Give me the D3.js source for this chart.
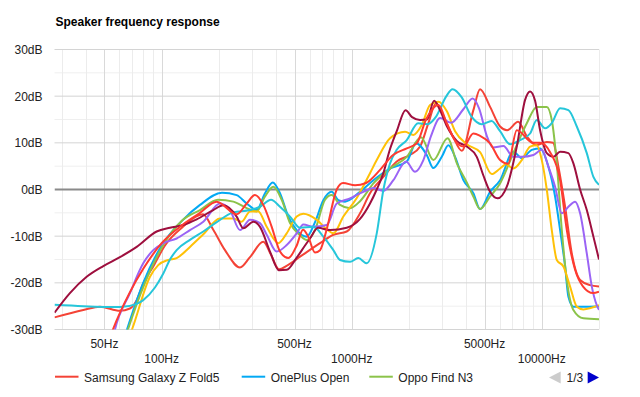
<!DOCTYPE html>
<html>
<head>
<meta charset="utf-8">
<script src="https://cdn.jsdelivr.net/npm/d3@7"></script>
<style>
    body { margin: 0; background: #fff; }
    text { font-family: Arial, "Liberation Sans", sans-serif; }
</style>
</head>
<body>
<svg id="chart"></svg>
<script>
// Frequency response readings, [Hz, dB]
const samsung = [[27.3,-27.4],[38.7,-25.8],[47.4,-25.1],[60.3,-26],[68.1,-25.5],[73.9,-23.7],[80,-20.1],[90.3,-16.5],[104.1,-12],[129.4,-8],[151.5,-5.8],[165,-5.3],[186.2,-8.5],[215.4,-13],[258.3,-16.7],[291.6,-14.5],[342.5,-11.2],[376.1,-14],[414.4,-17.1],[456.6,-16.3],[534.5,-14.4],[681.2,-11.5],[800.3,-9.7],[941.2,-9],[1106,-5.1],[1248,-0.8],[1467,2.7],[1725,6],[2027,7.4],[2289,9.2],[2521,14],[2778,18.5],[3099,15],[3413,11.3],[3793,8.3],[4365,17],[4735,21.5],[5345,17.7],[6033,13.5],[6569,12.7],[7505,14.5],[8370,11.3],[9333,9.5],[10624,10.2],[11468,10],[12230,4.9],[13265,-3.7],[14384,-13.7],[15907,-19.4],[17956,-20.5],[20000,-20.8]];
const oneplus = [[55.4,-40],[65.7,-30],[80,-20],[100,-12],[129.4,-6.5],[159.1,-3.3],[207.7,-0.7],[248.1,-1.2],[280.2,-3],[316.2,-4.4],[349.7,-0.8],[383.9,1.5],[419.4,-0.8],[463.8,-5.8],[513.5,-8.7],[579.7,-10.1],[641,-7],[709,-2.3],[784.9,-0.5],[850.3,-2.3],[922,-2.6],[1106,-0.5],[1300,2],[1591,4.5],[1948,6],[2180,9.9],[2481,7.4],[2689,4.6],[2977,7],[3224,9.5],[3498,7],[3868,2],[4365,-0.8],[4735,-4.2],[5345,-0.5],[6033,2],[7088,8.1],[7849,6.7],[8862,8.5],[9797,8.8],[10832,4.9],[11749,-1.5],[12484,-8.7],[13265,-16.5],[13804,-23],[14666,-25.1],[17250,-25.1],[20000,-25]];
const oppo = [[56.1,-40],[66.5,-30],[81.7,-20],[100,-12.5],[129.4,-6.5],[159.1,-4.4],[197.9,-2.2],[238.2,-2.6],[280.2,-4],[316.2,-4.7],[349.7,-1.5],[386.8,0.6],[428.1,-2.2],[473.5,-7.2],[534.5,-9.8],[579.7,-10.8],[641,-8.7],[723.8,-2.2],[784.9,-1.2],[868,-3.3],[979.7,-4],[1106,-2.5],[1300,1.3],[1591,4.5],[1948,7],[2316,11.2],[2689,6.3],[3193,11],[3583,5.5],[4030,1.5],[4365,-1.5],[4735,-4.2],[5345,-1.5],[6033,1.3],[7088,7.8],[8341,14.2],[9412,17.7],[10624,17.7],[11287,14.9],[11993,5.6],[12745,-8.7],[13542,-19.4],[14666,-25.8],[16555,-27.6],[20000,-27.8]];
const phone4 = [[54.7,-40],[69.8,-30],[86.8,-18.7],[95.9,-16.2],[108.3,-15.1],[119.9,-14.7],[140.9,-12.3],[165.6,-9.6],[202.7,-6.2],[238.2,-6.2],[263.7,-6.9],[291.6,-4.7],[322.4,-4.7],[357,-8],[410.9,-11.5],[454.9,-9.4],[513.5,-5.8],[556.3,-5.2],[654.4,-6.5],[738.8,-8.5],[800.3,-9.4],[903.5,-5.8],[1063,-1.8],[1248,3.5],[1354,6.3],[1591,11],[1908,12.4],[2110,11.7],[2336,13.8],[2583,18.1],[2857,18.8],[3162,16.8],[3498,12.5],[4030,9.7],[4735,8],[5456,3.3],[6033,4.5],[6489,5.4],[7088,4.5],[7849,6.3],[8680,9.2],[9412,9.5],[10000,6.3],[10624,0],[11287,-8.7],[11993,-15.1],[12994,-16.5],[14090,-20.8],[15283,-25.1],[16555,-25.7],[20000,-24.8]];
const phone5 = [[50.9,-40],[56.8,-30],[68.1,-22.2],[80,-15.8],[90.3,-13],[102,-11.5],[119.9,-10.5],[140.9,-8.7],[165.6,-6.9],[202.7,-3],[228.8,-4.4],[258.3,-8.7],[291.6,-6.5],[329.1,-7.2],[357,-9.7],[403,-13.3],[454.9,-11.9],[513.5,-9.4],[556.3,-7.5],[628,-8],[738.8,-7.6],[834,-3],[979.7,-1.9],[1151,-0.5],[1300,0.3],[1467,-0.3],[1656,2],[1932,6],[2154,3.8],[2382,6.3],[2615,11.5],[2916,15.3],[3331,14.3],[3868,17.2],[4325,19.5],[4677,17.4],[5135,11.5],[5543,9],[6280,9.3],[7088,7],[7849,7],[9035,7.4],[10000,8.5],[10832,4.9],[11749,0.6],[12745,-5.1],[13804,-3.7],[14973,-2.6],[15907,-5.1],[17250,-13.7],[18333,-20.8],[19475,-24.8],[20000,-25.8]];
const phone6 = [[27.3,-24.7],[38.7,-25],[60.3,-25.2],[73.9,-24.5],[80,-23.7],[92.2,-21],[102,-18],[110.6,-15],[119.9,-13],[140.9,-10.8],[165.6,-9],[194.8,-7],[238.2,-4.9],[291.6,-4.4],[329.1,-3.7],[376.1,-2.2],[419.4,-3.7],[473.5,-5.8],[534.5,-8.2],[628,-8],[709,-10.1],[800.3,-13],[868,-15.1],[979.7,-15.5],[1083,-14.7],[1199,-15.8],[1354,-9.4],[1467,-0.1],[1591,5.6],[1725,8.5],[1948,10.6],[2234,14.2],[2505,14],[2778,15.6],[3136,19.9],[3392,21.5],[3784,19.8],[4272,15.6],[4822,14],[5443,14.7],[6033,12.5],[6812,9.7],[7690,10.6],[8680,12],[9412,14.9],[10408,13.1],[11287,14.2],[12484,17.4],[13804,17],[15283,13.5],[17250,7.8],[18689,2.7],[20000,1]];
const phone7 = [[27.3,-26.4],[32.9,-22.2],[40.3,-18.7],[49.3,-16.4],[60.3,-14.5],[73.9,-12.3],[94.1,-9],[110.6,-8.2],[129.9,-7.6],[152.8,-6.4],[186.9,-4.4],[211,-3.4],[248.1,-5.8],[268.9,-8.3],[303.5,-6.9],[329.1,-8],[371.5,-13.3],[414.4,-17.3],[454.9,-17.2],[513.5,-14.6],[567.9,-12],[603.3,-10.5],[664.8,-8.2],[768.9,-8.7],[941.2,-8.2],[1106,-6.3],[1248,-3],[1354,0],[1467,3.5],[1572,8],[1725,12.5],[1920,17],[2077,15.5],[2289,14.9],[2490,15],[2712,19],[2916,17],[3174,13.5],[3570,10.4],[4030,9.2],[4549,7],[4928,3],[5345,-0.5],[5854,-1.9],[6545,0.6],[7387,9.2],[8170,19.2],[8680,21],[9220,19],[9797,12.7],[10624,7.8],[11510,7],[12484,8.1],[13804,7.8],[14666,5.6],[15907,0],[17250,-4.4],[18689,-10.1],[20000,-15]];
const phone8 = [[47.4,-38],[55.4,-30],[68.1,-22],[80,-17],[100,-11.5],[129.4,-7.5],[159.1,-5],[194.8,-2.6],[248.1,-5.3],[280.2,-3],[309.8,-1.2],[342.5,-3.3],[379.3,-8],[419.4,-13.3],[463.8,-14.7],[513.5,-12],[554.3,-8.6],[588.8,-10],[641,-13.5],[681.2,-13],[738.8,-8.5],[834,0],[900.2,1.4],[1041,0.9],[1189,1.4],[1409,4.2],[1650,7.4],[1948,8.8],[2199,9.9],[2461,15],[2857,18.1],[3174,14],[3498,10.5],[3868,9.2],[4365,12],[4735,11.5],[5345,9.9],[6033,6.3],[6648,5.5],[7387,12.7],[9002,10],[9797,10],[11058,8],[12484,2],[13542,-8.7],[14973,-17.2],[16497,-20.8],[18621,-22.2],[20000,-21.9]];

const seriesNames = ['Samsung Galaxy Z Fold5', 'OnePlus Open', 'Oppo Find N3', 'Phone 4', 'Phone 5', 'Phone 6', 'Phone 7', 'Phone 8'];
const seriesData = [samsung, oneplus, oppo, phone4, phone5, phone6, phone7, phone8];
const seriesColors = ['#f44336', '#03a9f4', '#8bc34a', '#ffc107', '#9b64f5', '#26c6da', '#9e0f3e', '#ff3b30'];

const dbTicks = [-30, -20, -10, 0, 10, 20, 30];
const dbMinor = [-25, -15, -5, 5, 15, 25];
const freqLabels = [50, 100, 500, 1000, 5000, 10000];
const freqMinor = [30, 40, 60, 70, 80, 90, 200, 300, 400, 600, 700, 800, 900, 2000, 3000, 4000, 6000, 7000, 8000, 9000, 20000];

const W = 640, H = 397;
const plot = { left: 54.5, right: 599, top: 49.5, bottom: 329.5 };

const svg = d3.select('#chart')
    .attr('width', W)
    .attr('height', H);

const x = d3.scaleLog()
    .domain([27.3, 20000])
    .range([plot.left, plot.right]);

const y = d3.scaleLinear()
    .domain([-30, 30])
    .range([plot.bottom, plot.top]);

// title
svg.append('text')
    .attr('x', 55.5)
    .attr('y', 26)
    .style('font-size', '12px')
    .style('font-weight', 'bold')
    .attr('fill', '#000')
    .text('Speaker frequency response');

// grid
const grid = svg.append('g');
grid.selectAll('.hminor').data(dbMinor).enter().append('line')
    .attr('x1', plot.left).attr('x2', plot.right)
    .attr('y1', d => y(d)).attr('y2', d => y(d))
    .attr('stroke', '#efefef').attr('stroke-width', 1);
grid.selectAll('.vminor').data(freqMinor).enter().append('line')
    .attr('x1', d => Math.round(x(d)) + 0.5).attr('x2', d => Math.round(x(d)) + 0.5)
    .attr('y1', plot.top).attr('y2', plot.bottom)
    .attr('stroke', '#ececec').attr('stroke-width', 1);
grid.selectAll('.vmajor').data(freqLabels).enter().append('line')
    .attr('x1', d => Math.round(x(d)) + 0.5).attr('x2', d => Math.round(x(d)) + 0.5)
    .attr('y1', plot.top).attr('y2', plot.bottom)
    .attr('stroke', '#d9d9d9').attr('stroke-width', 1);
grid.selectAll('.hmajor').data(dbTicks.filter(d => d !== 0)).enter().append('line')
    .attr('x1', plot.left).attr('x2', plot.right)
    .attr('y1', d => y(d)).attr('y2', d => y(d))
    .attr('stroke', '#d4d4d4').attr('stroke-width', 1);

// y labels
svg.selectAll('.ylab').data(dbTicks).enter().append('text')
    .attr('x', 42.5)
    .attr('y', d => y(d) + 4.5)
    .attr('text-anchor', 'end')
    .style('font-size', '12px')
    .attr('fill', '#222')
    .text(d => d + 'dB');

// x labels, staggered in two rows
svg.selectAll('.xlab').data(freqLabels).enter().append('text')
    .attr('x', d => x(d))
    .attr('y', (d, i) => i % 2 === 0 ? 348 : 363)
    .attr('text-anchor', 'middle')
    .style('font-size', '12px')
    .attr('fill', '#222')
    .text(d => d + 'Hz');

// lines
svg.append('clipPath').attr('id', 'clip')
    .append('rect')
    .attr('x', plot.left).attr('y', plot.top)
    .attr('width', plot.right - plot.left).attr('height', plot.bottom - plot.top);

const line = d3.line()
    .x(d => x(d[0]))
    .y(d => y(d[1]))
    .curve(d3.curveMonotoneX);

const lines = svg.append('g').attr('clip-path', 'url(#clip)');

// zero baseline under the curves
lines.append('line')
    .attr('x1', plot.left).attr('x2', plot.right)
    .attr('y1', y(0)).attr('y2', y(0))
    .attr('stroke', '#8a8a8a').attr('stroke-width', 2);

seriesData.forEach((data, i) => {
    lines.append('path')
        .datum(data)
        .attr('d', line)
        .attr('fill', 'none')
        .attr('stroke', seriesColors[i])
        .attr('stroke-width', 2)
        .attr('stroke-linejoin', 'round');
});

// legend (page 1 of 3)
const legendX = [55, 241.7, 369.3];
const legend = svg.append('g');
[0, 1, 2].forEach(i => {
    legend.append('line')
        .attr('x1', legendX[i]).attr('x2', legendX[i] + 23.5)
        .attr('y1', 376.7).attr('y2', 376.7)
        .attr('stroke', seriesColors[i]).attr('stroke-width', 2);
    legend.append('text')
        .attr('x', legendX[i] + 29)
        .attr('y', 381.5)
        .style('font-size', '12px')
        .attr('fill', '#222')
        .text(seriesNames[i]);
});

// pager
legend.append('path')
    .attr('d', 'M549,377.5 L560.7,371.5 L560.7,383.5 Z')
    .attr('fill', '#cccccc');
legend.append('text')
    .attr('x', 566.5)
    .attr('y', 381.5)
    .style('font-size', '12px')
    .attr('fill', '#222')
    .text('1/3');
legend.append('path')
    .attr('d', 'M599,377.5 L587.7,371.5 L587.7,383.5 Z')
    .attr('fill', '#0000cc');
</script>
</body>
</html>
